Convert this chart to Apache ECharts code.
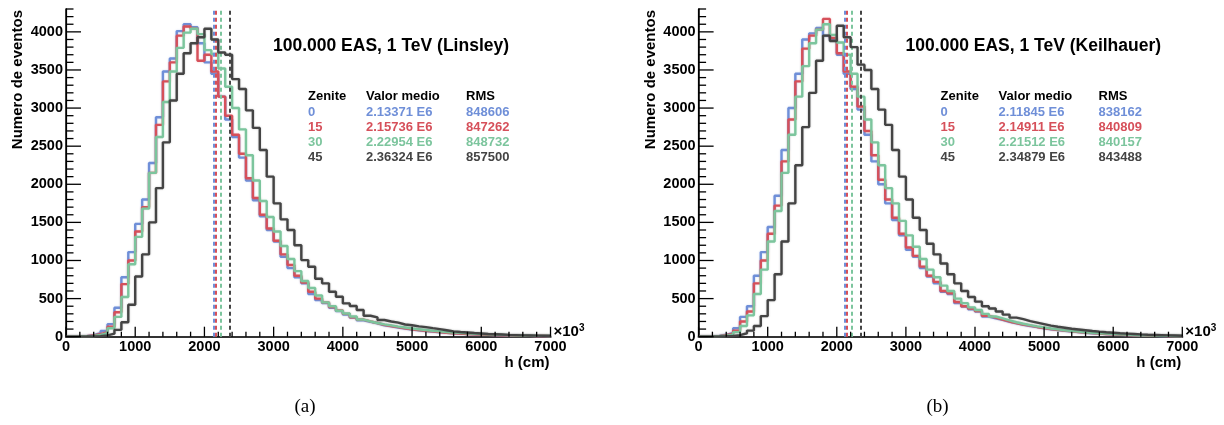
<!DOCTYPE html>
<html><head><meta charset="utf-8">
<script src="https://cdn.jsdelivr.net/npm/echarts@6/dist/echarts.min.js"></script>
<style>html,body{margin:0;padding:0;background:#fff}#c{width:1224px;height:425px}</style>
</head><body><div id="c"></div>
<script>
// ---- data (h in units of 10^3 cm, bins of width 100) ----
const binWidth = 100;
const xTicks = [0, 1000, 2000, 3000, 4000, 5000, 6000, 7000];
const yTicks = [0, 500, 1000, 1500, 2000, 2500, 3000, 3500, 4000];
const xMinorStep = 200, yMinorStep = 100;
const zenith = ['0', '15', '30', '45'];

const linsley_z0 = [1,3,8,20,45,75,165,380,780,1110, 1480,1800,2280,2880,3480,3650,4010,4100,4060,3850, 3600,3450,3150,2850,2620,2350,2050,1790,1580,1400, 1250,1050,900,780,700,560,480,440,380,335, 290,250,215,195,175,150,135,120,108,95, 85,75,68,58,50,45,40,35,30,27, 24,20,18,16,14,12,11,10,8,7];
const linsley_z15 = [1,2,6,15,35,60,130,320,690,1000, 1380,1700,2150,2780,3350,3600,3950,4070,4040,3620, 3700,3480,3150,2900,2650,2400,2080,1820,1600,1420, 1260,1080,940,800,710,590,500,450,390,345, 300,255,225,200,180,155,140,125,110,98, 88,78,70,60,52,46,41,36,32,28, 25,21,19,17,15,13,11,10,9,7];
const linsley_z30 = [1,2,4,10,22,45,110,260,520,950, 1310,1680,2150,2620,3080,3480,3790,3990,4040,3970, 3760,3710,3520,3280,3000,2720,2380,2050,1780,1570, 1380,1190,1020,860,730,640,540,450,400,340, 305,265,225,200,180,162,148,132,120,108, 98,88,78,70,62,56,50,44,39,34, 30,27,24,21,18,16,14,12,11,10];
const linsley_z45 = [0,1,2,4,8,18,40,90,190,420, 790,1080,1500,1950,2550,3100,3450,3720,3850,3930, 4040,3900,3730,3700,3380,3250,2970,2740,2450,2100, 1750,1540,1400,1200,1005,918,760,700,590,525, 437,402,350,275,254,219,200,185,160,150, 135,125,112,100,85,70,62,55,48,42, 36,32,28,24,21,18,16,14,13,12];
const linsley_mean = ['2.13371 E6', '2.15736 E6', '2.22954 E6', '2.36324 E6'];
const linsley_rms = ['848606', '847262', '848732', '857500'];

const keil_z0 = [1,3,10,25,50,110,260,400,800,1110, 1440,1850,2450,3000,3450,3900,3980,4050,3950,3900, 3700,3450,3250,2980,2650,2300,2000,1750,1530,1330, 1140,1050,900,790,700,590,560,440,395,360, 330,265,240,220,195,175,155,140,125,110, 98,88,78,68,60,52,46,40,35,30, 26,22,19,16,14,12,10,9,8,7];
const keil_z15 = [1,2,8,20,40,80,200,330,700,1000, 1350,1720,2300,2850,3350,3780,3950,4030,4170,3920, 3720,3480,3280,3020,2700,2380,2060,1800,1560,1350, 1170,1060,920,800,720,600,570,455,400,370, 335,275,250,225,200,180,160,145,128,114, 100,90,80,70,62,54,47,41,36,31, 27,23,20,17,15,13,11,10,8,7];
const keil_z30 = [1,2,5,12,28,60,140,280,560,880, 1250,1650,2150,2650,3150,3550,3850,4030,4100,3960, 3860,3700,3450,3150,2850,2550,2250,1950,1750,1520, 1330,1180,1020,880,780,670,600,500,440,385, 350,300,265,240,215,190,170,152,136,122, 108,96,85,75,67,59,52,46,40,35, 31,27,23,20,18,15,13,12,10,9];
const keil_z45 = [0,1,2,5,10,20,45,80,140,270, 480,820,1250,1750,2250,2750,3200,3620,3950,3880, 4080,3930,3800,3570,3500,3250,2980,2780,2450,2100, 1800,1560,1400,1220,1080,960,820,700,600,520, 460,400,370,330,290,250,230,205,185,165, 145,130,118,105,95,85,75,66,58,52, 45,40,35,30,26,23,20,17,15,13];
const keil_mean = ['2.11845 E6', '2.14911 E6', '2.21512 E6', '2.34879 E6'];
const keil_rms = ['838162', '840809', '840157', '843488'];

const titles = ['100.000 EAS, 1 TeV (Linsley)', '100.000 EAS, 1 TeV (Keilhauer)'];
const captions = ['(a)', '(b)'];

// ---- styling ----
const colors = ['#6f8fd8', '#d6505a', '#7cc59d', '#444444'];
const FONT = '"Liberation Sans", Arial, Helvetica, sans-serif';
const panels = [
  { series: [linsley_z0, linsley_z15, linsley_z30, linsley_z45], mean: linsley_mean, rms: linsley_rms, left: 66, width: 484.5 },
  { series: [keil_z0, keil_z15, keil_z30, keil_z45], mean: keil_mean, rms: keil_rms, left: 698.6, width: 483.7 }
];
const TOP = 9, HEIGHT = 327.7, XMAX = xTicks[xTicks.length - 1], YMAX = 4300;

function range(a, b, step) { const r = []; for (let v = a; v <= b + 1e-9; v += step) r.push(v); return r; }
const xMinor = range(xTicks[0], XMAX, xMinorStep).filter(v => xTicks.indexOf(v) < 0);
const yMinor = range(yTicks[0], YMAX, yMinorStep).filter(v => yTicks.indexOf(v) < 0);

function tickSeries(xi, yi, values, dir, len) {
  return {
    type: 'custom', xAxisIndex: xi, yAxisIndex: yi, silent: true, clip: false, animation: false, z: 10,
    data: values.map(v => dir === 'x' ? [v, 0] : [0, v]),
    renderItem: function (params, api) {
      const p = api.coord([api.value(0), api.value(1)]);
      const shape = dir === 'x' ? { x1: p[0], y1: p[1], x2: p[0], y2: p[1] - len } : { x1: p[0], y1: p[1], x2: p[0] + len, y2: p[1] };
      return { type: 'line', shape: shape, style: { stroke: '#000', lineWidth: 1.3 } };
    }
  };
}

const grid = [], xAxis = [], yAxis = [], series = [], graphic = [];
panels.forEach((p, k) => {
  grid.push({ left: p.left, top: TOP, width: p.width, height: HEIGHT, show: false });
  const xi = xAxis.length, yi = yAxis.length;
  xAxis.push({
    gridIndex: k, type: 'value', position: 'bottom', min: xTicks[0], max: XMAX, interval: xTicks[1] - xTicks[0],
    axisLine: { show: true, lineStyle: { color: '#000', width: 1.5 } },
    axisTick: { show: false }, minorTick: { show: false },
    splitLine: { show: false },
    axisLabel: { fontFamily: FONT, fontWeight: 'bold', fontSize: 14.5, color: '#000', margin: 3, formatter: v => String(v) }
  });
  xAxis.push({
    gridIndex: k, type: 'value', position: 'top', min: xTicks[0], max: XMAX,
    axisLine: { show: true, lineStyle: { color: '#333', width: 2 } },
    axisTick: { show: false }, axisLabel: { show: false }, splitLine: { show: false }
  });
  yAxis.push({
    gridIndex: k, type: 'value', position: 'left', min: yTicks[0], max: YMAX, interval: yTicks[1] - yTicks[0],
    axisLine: { show: true, lineStyle: { color: '#000', width: 1.5 } },
    axisTick: { show: false },
    splitLine: { show: false },
    axisLabel: { fontFamily: FONT, fontWeight: 'bold', fontSize: 14.5, color: '#000', margin: 3, showMaxLabel: false, formatter: v => String(v) }
  });
  yAxis.push({
    gridIndex: k, type: 'value', position: 'right', min: yTicks[0], max: YMAX,
    axisLine: { show: true, lineStyle: { color: '#000', width: 1.2 } },
    axisTick: { show: false }, axisLabel: { show: false }, splitLine: { show: false }
  });
  series.push(tickSeries(xi, yi, xTicks, 'x', 10));
  series.push(tickSeries(xi, yi, xMinor, 'x', 5));
  series.push(tickSeries(xi, yi, yTicks, 'y', 15));
  series.push(tickSeries(xi, yi, yMinor, 'y', 7.5));
  p.series.forEach((counts, s) => {
    const pts = counts.map((v, i) => [i * binWidth, v]);
    pts.push([counts.length * binWidth, counts[counts.length - 1]]);
    const meanVal = parseFloat(p.mean[s]) * 1000; // E6 cm -> 10^3 cm
    series.push({
      type: 'line', xAxisIndex: xi, yAxisIndex: yi, step: 'end', data: pts,
      symbol: 'none', animation: false, z: 2 + s,
      lineStyle: { color: colors[s], width: 2.4, shadowColor: colors[s] + '55', shadowBlur: 2 },
      markLine: {
        silent: true, symbol: 'none', animation: false, label: { show: false },
        lineStyle: { color: colors[s], type: [4, 3], width: 2 },
        data: [{ xAxis: meanVal }]
      }
    });
  });
  const dx = p.left - panels[0].left;
  const R = p.left + p.width;
  graphic.push({ type: 'text', x: 273 + dx, y: 46, style: { text: titles[k], font: 'bold 17.5px ' + FONT, fill: '#000', textAlign: 'left', textVerticalAlign: 'middle' } });
  const cols = [308 + dx, 366 + dx, 466 + dx];
  const heads = ['Zenite', 'Valor medio', 'RMS'];
  heads.forEach((h, c) => graphic.push({ type: 'text', x: cols[c], y: 96, style: { text: h, font: 'bold 13px ' + FONT, fill: '#000', textVerticalAlign: 'middle' } }));
  for (let s = 0; s < 4; s++) {
    const yy = 112.5 + s * 15;
    [zenith[s], p.mean[s], p.rms[s]].forEach((t, c) => graphic.push({ type: 'text', x: cols[c], y: yy, style: { text: t, font: 'bold 13px ' + FONT, fill: colors[s], textVerticalAlign: 'middle' } }));
  }
  graphic.push({ type: 'text', x: 18 + dx, y: 10, rotation: Math.PI / 2, style: { text: 'Numero de eventos', font: 'bold 15px ' + FONT, fill: '#000', textAlign: 'right', textVerticalAlign: 'middle' } });
  graphic.push({ type: 'text', x: R - 1, y: 363, style: { text: 'h (cm)', font: 'bold 15px ' + FONT, fill: '#000', textAlign: 'right', textVerticalAlign: 'middle' } });
  graphic.push({ type: 'text', x: R + 3, y: 332, style: { text: '×10{s|3}', rich: { s: { fontSize: 10, fontWeight: 'bold', verticalAlign: 'top', padding: [0, 0, 7, 0] } }, font: 'bold 15px ' + FONT, fill: '#000', textAlign: 'left', textVerticalAlign: 'middle' } });
  graphic.push({ type: 'text', x: 305 + dx, y: 407, style: { text: captions[k], font: '19px "Liberation Serif", "DejaVu Serif", serif', fill: '#000', textAlign: 'center', textVerticalAlign: 'middle' } });
});

const chart = echarts.init(document.getElementById('c'), null, { renderer: 'canvas' });
chart.setOption({ animation: false, backgroundColor: '#fff', grid, xAxis, yAxis, series, graphic });
</script></body></html>
